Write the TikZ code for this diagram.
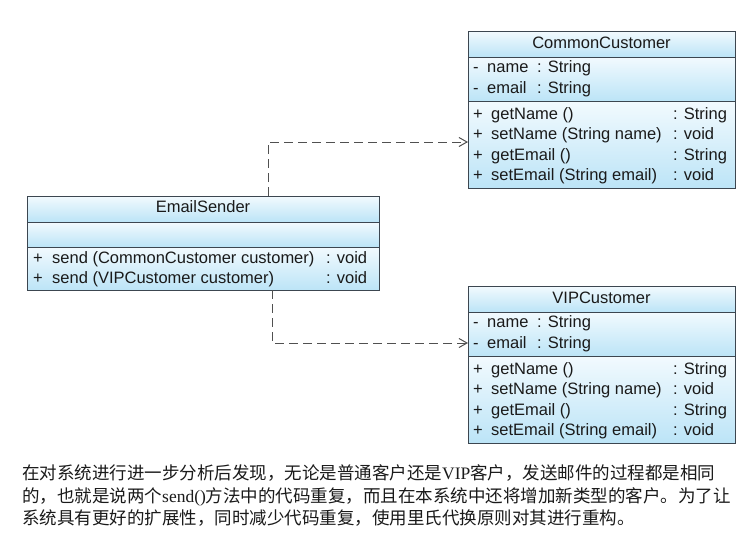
\documentclass[tikz,border=0pt]{standalone}
\usepackage{fontspec}
\setmainfont{Liberation Sans}
\newfontfamily\cjk{Noto Sans CJK SC}
\newfontfamily\tms{Liberation Serif}
\usetikzlibrary{arrows.meta}
\definecolor{bord}{HTML}{3C4650}
\definecolor{ctop}{HTML}{F2FAFE}
\definecolor{cbot}{HTML}{BCE4F7}
\definecolor{lin}{HTML}{505050}
\definecolor{ink}{HTML}{1A1A1A}
\tikzset{
 comp/.style={top color=ctop,bottom color=cbot,draw=bord,line width=1pt},
 frame/.style={draw=bord,line width=1pt,inner sep=0pt,outer sep=0pt,anchor=north west},
 txt/.style={anchor=base west,inner sep=0pt,text=ink,font=\fontsize{16.5}{20}\selectfont},
 ttl/.style={anchor=base,inner sep=0pt,text=ink,font=\fontsize{16.5}{20}\selectfont},
 cn/.style={anchor=base west,inner sep=0pt,text=ink,font=\fontsize{17.5}{22}\cjk},
 dep/.style={draw=lin,line width=1pt,dash pattern=on 9pt off 5pt,-{Straight Barb[length=8pt,width=9pt]}}
}
\newcommand\custbox[3]{%
 \begin{scope}[yshift=#3]
  \shade[comp] (468,31) rectangle (735,57);
  \shade[comp] (468,57) rectangle (735,101);
  \shade[comp] (468,101) rectangle (735,188);
  \node[frame,minimum width=267pt,minimum height=157pt] (#1) at (468,31) {};
  \node[ttl] (#1-t) at (601.5,48) {#2};
  \node[txt] (#1-a1) at (473,72.5) {\makebox[14pt][l]{-}name};
  \node[txt] (#1-a1t) at (537,72.5) {: String};
  \node[txt] (#1-a2) at (473,93) {\makebox[14pt][l]{-}email};
  \node[txt] (#1-a2t) at (537,93) {: String};
  \node[txt] (#1-o1) at (473,119) {\makebox[18pt][l]{+}getName ()};
  \node[txt] (#1-o1t) at (673,119) {: String};
  \node[txt] (#1-o2) at (473,139.5) {\makebox[18pt][l]{+}setName (String name)};
  \node[txt] (#1-o2t) at (673,139.5) {: void};
  \node[txt] (#1-o3) at (473,160) {\makebox[18pt][l]{+}getEmail ()};
  \node[txt] (#1-o3t) at (673,160) {: String};
  \node[txt] (#1-o4) at (473,180.5) {\makebox[18pt][l]{+}setEmail (String email)};
  \node[txt] (#1-o4t) at (673,180.5) {: void};
 \end{scope}}
\begin{document}
\begin{tikzpicture}[x=1pt,y=-1pt]
\useasboundingbox[fill=white] (0,0) rectangle (742,536);
\custbox{cc}{CommonCustomer}{0pt}
\custbox{vip}{VIPCustomer}{-255pt}
% EmailSender
\shade[comp] (27,196) rectangle (379,222);
\shade[comp] (27,222) rectangle (379,247);
\shade[comp] (27,247) rectangle (379,290);
\node[frame,minimum width=352pt,minimum height=94pt] (es) at (27,196) {};
\node[ttl] (es-t) at (203,212.7) {EmailSender};
\node[txt] (es-o1) at (33,263.3) {\makebox[19pt][l]{+}send (CommonCustomer customer)};
\node[txt] (es-o1t) at (326,263.3) {: void};
\node[txt] (es-o2) at (33,283.3) {\makebox[19pt][l]{+}send (VIPCustomer customer)};
\node[txt] (es-o2t) at (326,283.3) {: void};
% dependencies
\draw[dep] (268,0 |- es.north) |- (cc.west |- 0,142);
\draw[dep] (272,0 |- es.south) |- (vip.west |- 0,343);
% caption
\node[cn] (l1) at (22,479.5) {在对系统进行进一步分析后发现，无论是普通客户还是{\tms VIP}客户，发送邮件的过程都是相同};
\node[cn] (l2) at (22,502) {的，也就是说两个{\tms send()}方法中的代码重复，而且在本系统中还将增加新类型的客户。为了让};
\node[cn] (l3) at (22,524.5) {系统具有更好的扩展性，同时减少代码重复，使用里氏代换原则对其进行重构。};
\end{tikzpicture}
\end{document}
